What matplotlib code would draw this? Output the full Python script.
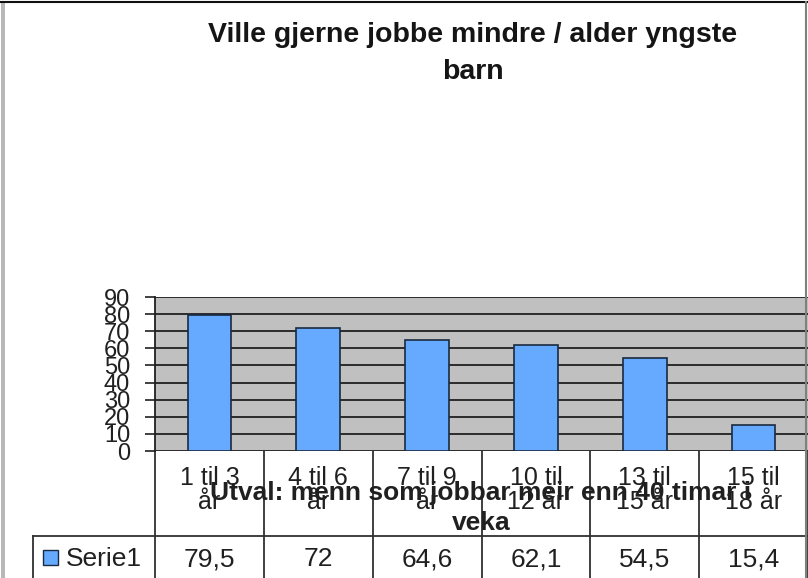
import matplotlib
matplotlib.use("Agg")
import matplotlib.pyplot as plt
from matplotlib.transforms import blended_transform_factory
from matplotlib.lines import Line2D
from matplotlib.patches import Rectangle

# data
categories = ["1 til 3\når", "4 til 6\når", "7 til 9\når",
              "10 til\n12 år", "13 til\n15 år", "15 til\n18 år"]
serie1 = [79.5, 72, 64.6, 62.1, 54.5, 15.4]
yticks = [0, 10, 20, 30, 40, 50, 60, 70, 80, 90]

title_lines = ["Ville gjerne jobbe mindre / alder yngste", "barn"]
xtitle = "Utval: menn som jobbar meir enn 40 timar i\nveka"
series_name = "Serie1"

W, H = 808, 578
plt.rcParams["font.family"] = ["Liberation Sans", "DejaVu Sans"]

fig = plt.figure(figsize=(W / 100, H / 100), dpi=100)
fig.patch.set_facecolor("white")


def fx(px):
    return px / W


def fy(py):
    return 1 - py / H


# plot area in pixel coords
left, right, top, bottom = 155, 808, 297, 451
ax = fig.add_axes([fx(left), fy(bottom), fx(right - left), (bottom - top) / H])
ax.set_facecolor("#c0c0c0")

x = list(range(len(categories)))
ax.bar(x, serie1, width=0.4, color="#66aaff", edgecolor="#1a2a40", linewidth=1.2, zorder=3)
ax.set_xlim(-0.5, len(categories) - 0.5)
ax.set_ylim(0, 90)
ax.set_yticks(yticks)
ax.set_yticklabels([str(t) for t in yticks], fontsize=17, color="#202020")
ax.tick_params(axis="y", length=7, width=1.2, pad=11, direction="out", color="#202020")
ax.set_xticks([])
ax.yaxis.grid(True, color="#202020", linewidth=1.3, zorder=1)
ax.set_axisbelow(True)
for side in ["top", "right", "bottom"]:
    ax.spines[side].set_visible(False)
ax.spines["left"].set_color("#202020")
ax.spines["left"].set_linewidth(1.3)

# title
fig.text(fx(473), fy(35), title_lines[0], ha="center", va="center",
         fontsize=20.5, fontweight="bold", color="#151515")
fig.text(fx(473), fy(72), title_lines[1], ha="center", va="center",
         fontsize=20.5, fontweight="bold", color="#151515")

# data table below the axis
tr = blended_transform_factory(ax.transData, fig.transFigure)
line_col = "#303030"
row_split = 536
for b in [i - 0.5 for i in range(len(categories) + 1)]:
    ax.add_line(Line2D([b, b], [fy(bottom), fy(H)], transform=tr, color=line_col,
                       linewidth=1.3, clip_on=False))
fig.add_artist(Line2D([fx(33), 1], [fy(row_split), fy(row_split)], color=line_col, linewidth=1.3))
fig.add_artist(Line2D([fx(33), fx(33)], [fy(row_split), 0], color=line_col, linewidth=1.3))

for i, lab in enumerate(categories):
    ax.text(i, fy(490), lab, transform=tr, ha="center", va="center",
            fontsize=18, linespacing=0.95, color="#202020")
    ax.text(i, fy(566), f"{serie1[i]:g}".replace(".", ","), transform=tr,
            ha="center", va="baseline", fontsize=19, color="#202020")

# axis title, overlapping the category labels like in the original
fig.text(fx(481), fy(508), xtitle, ha="center", va="center", fontsize=19,
         fontweight="bold", linespacing=1.3, color="#202020")

# legend key in the table
fig.add_artist(Rectangle((fx(43), fy(565)), fx(15), 15 / H, facecolor="#66aaff",
                         edgecolor="#1a2a40", linewidth=1, transform=fig.transFigure))
fig.text(fx(66), fy(566), series_name, ha="left", va="baseline", fontsize=19, color="#202020")

# chart frame
fig.add_artist(Line2D([0, 1], [fy(2), fy(2)], color="#101010", linewidth=1.5))
fig.add_artist(Rectangle((fx(1), 0), fx(4), fy(2), facecolor="#b8b8b8",
                         edgecolor="none", transform=fig.transFigure))
fig.add_artist(Line2D([fx(806), fx(806)], [0, fy(2)], color="#808080", linewidth=1.5))

fig.savefig("out.png", dpi=100, facecolor="white")
